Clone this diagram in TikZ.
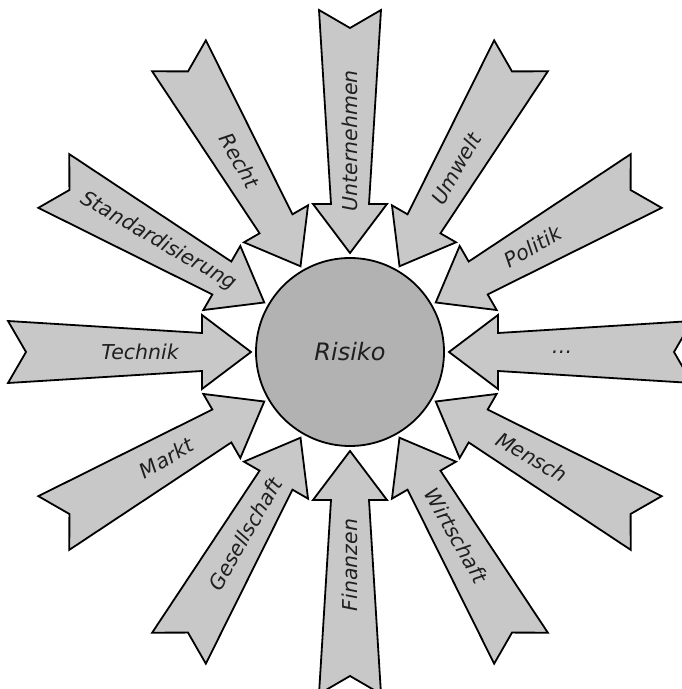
\documentclass[tikz,border=0pt]{standalone}
\usepackage{fontspec}
\setmainfont{DejaVu Sans}
\definecolor{rayfill}{HTML}{C8C8C8}
\definecolor{hubfill}{HTML}{B2B2B2}
\tikzset{
  ray/.style={draw=black, fill=rayfill, line width=1.8pt, line join=miter},
  raylabel/.style={font=\itshape\fontsize{20.5}{20.5}\selectfont, inner sep=0pt, text=black!88},
  hub/.style={circle, draw=black, fill=hubfill, line width=1.8pt,
    minimum size=188pt, inner sep=0pt, font=\itshape\fontsize{24}{24}\selectfont, text=black!88}
}
% one inward arrow: #1 direction, #2 text angle, #3 label radius, #4 name, #5 text
\newcommand\inarrow[5]{%
  \begin{scope}[shift={(350,337)}, rotate=#1]
    \draw[ray] (99,0) -- (148,37) -- (148,19) -- (342,31) -- (324,0)
      -- (342,-31) -- (148,-19) -- (148,-37) -- cycle;
    \node[raylabel, rotate=#2] (#4) at (#3,0) {#5};
  \end{scope}}
\begin{document}
\begin{tikzpicture}[x=1pt, y=1pt]
  \useasboundingbox (0,0) rectangle (682,689);
  \clip (0,0) rectangle (682,689);
  \inarrow{90}{90}{211}{unternehmen}{Unternehmen}
  \inarrow{60}{60}{212}{umwelt}{Umwelt}
  \inarrow{30}{30}{211}{politik}{Politik}
  \inarrow{0}{0}{212}{more}{\dots}
  \inarrow{-30}{-30}{210}{mensch}{Mensch}
  \inarrow{-60}{-60}{212}{wirtschaft}{Wirtschaft}
  \inarrow{-90}{90}{213}{finanzen}{Finanzen}
  \inarrow{-120}{60}{210}{gesellschaft}{Gesellschaft}
  \inarrow{-150}{30}{212}{markt}{Markt}
  \inarrow{180}{0}{210}{technik}{Technik}
  \inarrow{150}{-30}{221}{standard}{Standardisierung}
  \inarrow{120}{-60}{221}{recht}{Recht}
  \node[hub] (risiko) at (350,337) {Risiko};
\end{tikzpicture}
\end{document}
